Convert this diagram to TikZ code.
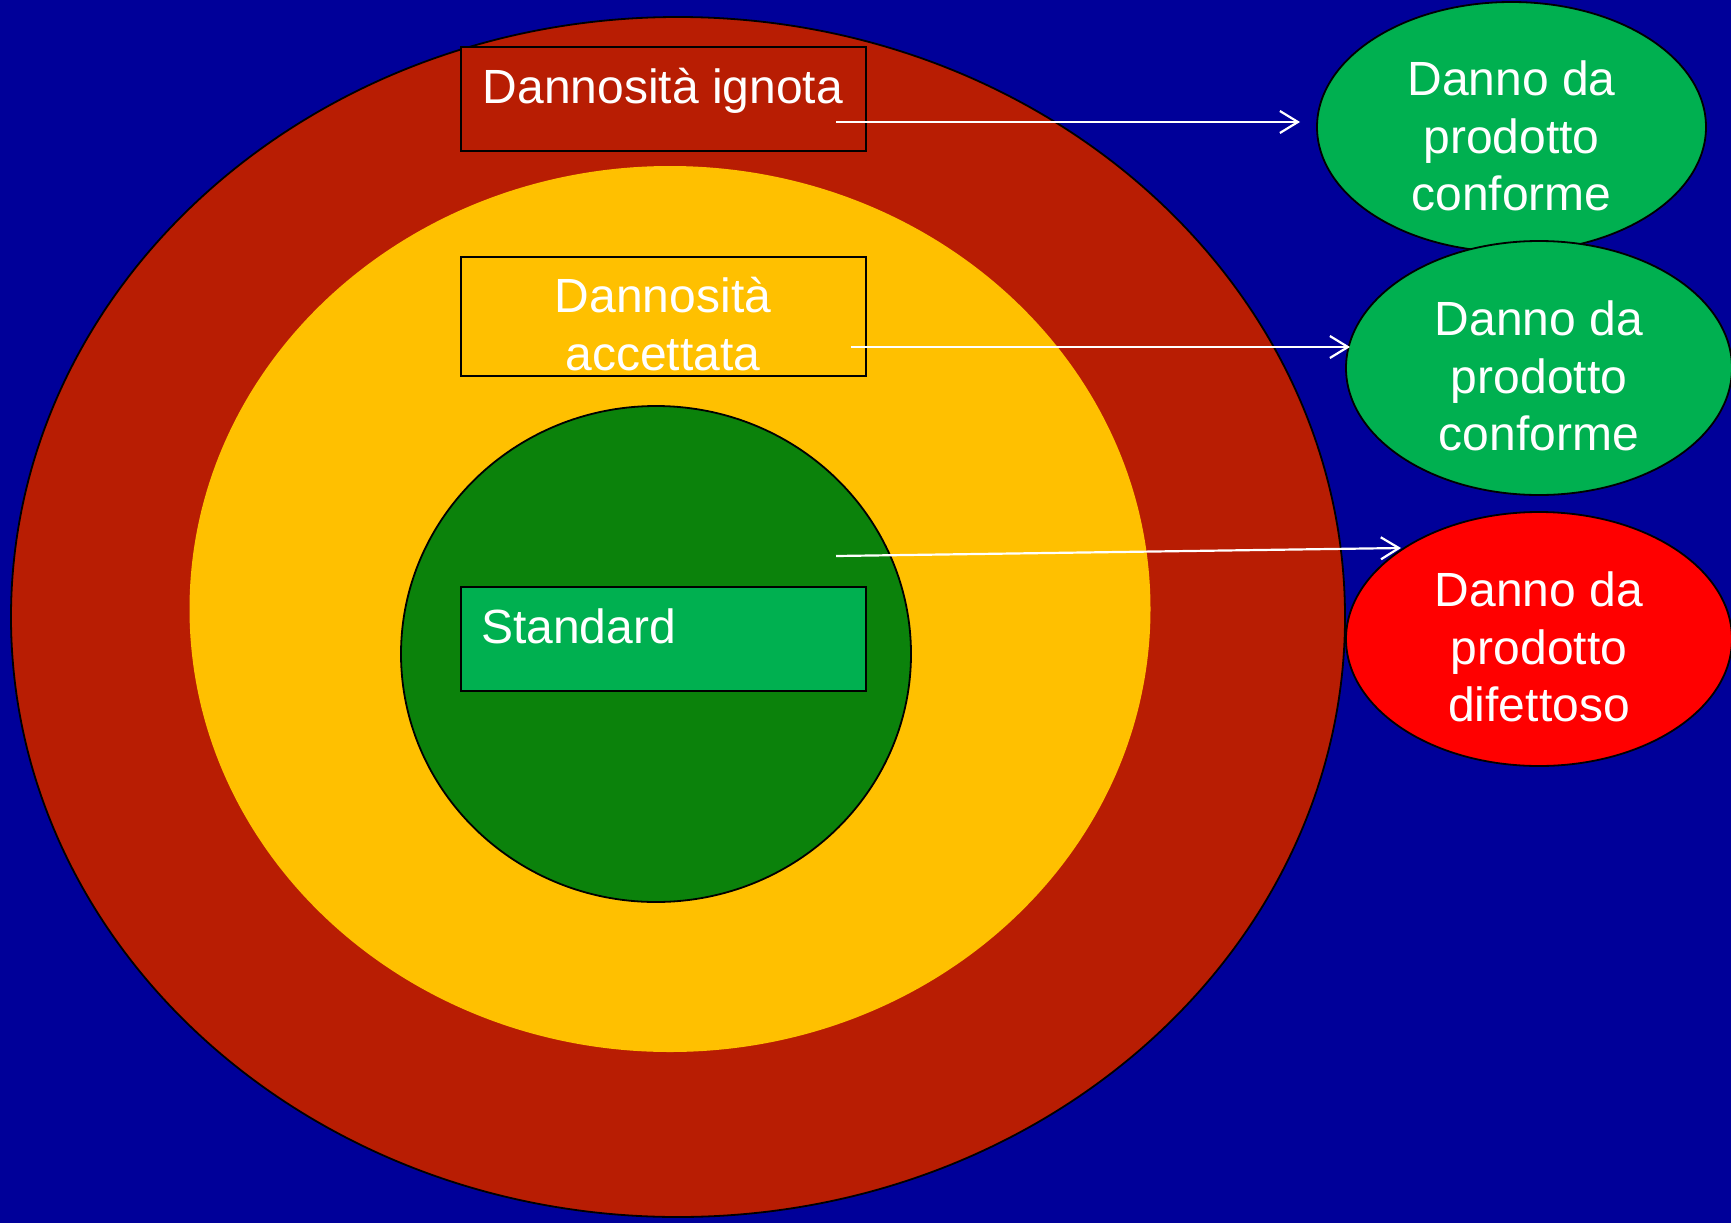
\documentclass[tikz,border=0pt]{standalone}
\usepackage{fontspec}
\setmainfont{Liberation Sans}
\usetikzlibrary{shapes.geometric,arrows.meta}
\definecolor{bgblue}{RGB}{0,0,153}
\definecolor{ringred}{RGB}{184,29,3}
\definecolor{ringyellow}{RGB}{255,192,0}
\definecolor{darkgreen}{RGB}{11,130,11}
\definecolor{lightgreen}{RGB}{0,176,80}
\definecolor{brightred}{RGB}{255,0,0}
\tikzset{
  zone/.style={ellipse, inner sep=0pt, line width=1.8pt},
  bubble/.style={ellipse, draw=black, line width=1.8pt, inner sep=0pt,
                 minimum width=386pt, minimum height=254pt},
  labelbox/.style={rectangle, draw=black, line width=1.8pt, inner sep=0pt,
                   minimum width=405pt},
  txt/.style={text=white, inner sep=0pt, align=center,
              font=\fontsize{48}{57.5}\selectfont},
  link/.style={draw=white, line width=2.2pt, -{Straight Barb[length=18pt,width=22pt,line width=2.2pt]}}
}
\begin{document}
\begin{tikzpicture}[x=1pt,y=-1pt]
\fill[bgblue] (0,0) rectangle (1731,1223);
\useasboundingbox (0,0) rectangle (1731,1223);
% concentric zones
\node[zone, draw=black, fill=ringred, minimum width=1334pt, minimum height=1200pt] (outer) at (678,617) {};
\node[zone, fill=ringyellow, minimum width=961pt, minimum height=886pt] (middle) at (670,609) {};
\node[zone, draw=black, fill=darkgreen, minimum width=510pt, minimum height=496pt] (inner) at (656,654) {};
% label boxes
\node[labelbox, fill=ringred, minimum height=104pt] (b1) at (663.5,99) {};
\node[labelbox, fill=ringyellow, minimum height=119pt] (b2) at (663.5,316.5) {};
\node[labelbox, fill=lightgreen, minimum height=104pt] (b3) at (663.5,639) {};
\node[txt, anchor=base] (t1) at (663,103) {Dannosità ignota};
\node[txt] (t2) at (663,324) {Dannosità\\accettata};
\node[txt, anchor=base west] (t3) at (481,643) {Standard};
% outcome bubbles
\node[bubble, fill=lightgreen, minimum width=389pt, minimum height=250pt] (e1) at (1511.5,127) {};
\node[bubble, fill=lightgreen] (e2) at (1539,368) {};
\node[bubble, fill=brightred] (e3) at (1539,639) {};
\node[txt] (l1) at ([yshift=-9pt]e1.center) {Danno da\\prodotto\\conforme};
\node[txt] (l2) at ([yshift=-8pt]e2.center) {Danno da\\prodotto\\conforme};
\node[txt] (l3) at ([yshift=-8pt]e3.center) {Danno da\\prodotto\\difettoso};
% connectors
\coordinate (s1) at (836,122);
\coordinate (s2) at (851,347);
\coordinate (s3) at (836,556);
\coordinate (d1) at (1300,122);
\coordinate (d2) at (1350,347);
\coordinate (d3) at (1401,548);
\draw[link] (s1) -- (d1);
\draw[link] (s2) -- (d2);
\draw[link] (s3) -- (d3);
\end{tikzpicture}
\end{document}
